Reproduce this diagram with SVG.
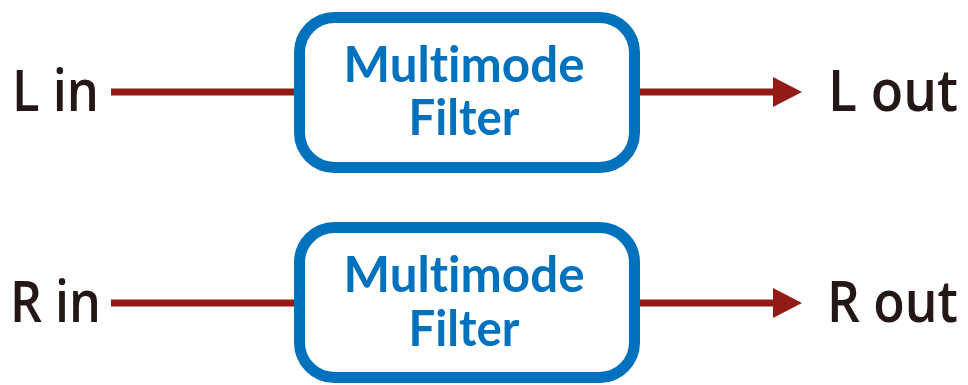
<svg xmlns="http://www.w3.org/2000/svg" width="968" height="385" viewBox="0 0 968 385">
<style>
.box{fill:#fff;stroke:#0071bc;stroke-width:11}
.btxt{font-family:Lato,"Open Sans",sans-serif;font-weight:700;font-size:49px;fill:#0071bc;text-anchor:middle;font-variant-ligatures:none;font-feature-settings:"liga" 0}
.lbl{font-family:"Open Sans","Noto Sans",sans-serif;font-weight:600;font-size:58px;fill:#231815}
.wire{stroke:#931b16;stroke-width:7;fill:none}
.head{fill:#931b16}
</style>
<rect width="968" height="385" fill="#fff"/>
<g id="connectors">
<line class="wire" x1="111" y1="92" x2="296" y2="92"/>
<line class="wire" x1="638" y1="92" x2="776" y2="92"/>
<polygon class="head" points="773,77 802,92 773,107"/>
<line class="wire" x1="111" y1="303" x2="296" y2="303"/>
<line class="wire" x1="638" y1="303" x2="776" y2="303"/>
<polygon class="head" points="773,288 802,303 773,318"/>
</g>
<g id="l-in"><text class="lbl" x="12" y="111" textLength="87" lengthAdjust="spacingAndGlyphs">L in</text></g>
<g id="r-in"><text class="lbl" x="10" y="322" textLength="91" lengthAdjust="spacingAndGlyphs">R in</text></g>
<g id="filter-l">
<rect class="box" x="299.5" y="17.5" width="335" height="150" rx="35"/>
<text class="btxt" x="464" y="82" textLength="241" lengthAdjust="spacingAndGlyphs">Multimode</text>
<text class="btxt" x="464" y="135" textLength="111" lengthAdjust="spacingAndGlyphs">Filter</text>
</g>
<g id="filter-r">
<rect class="box" x="299.5" y="227.5" width="335" height="150" rx="35"/>
<text class="btxt" x="464" y="292" textLength="241" lengthAdjust="spacingAndGlyphs">Multimode</text>
<text class="btxt" x="464" y="346" textLength="111" lengthAdjust="spacingAndGlyphs">Filter</text>
</g>
<g id="l-out"><text class="lbl" x="828" y="111" textLength="130" lengthAdjust="spacingAndGlyphs">L out</text></g>
<g id="r-out"><text class="lbl" x="827" y="322" textLength="131" lengthAdjust="spacingAndGlyphs">R out</text></g>
</svg>
